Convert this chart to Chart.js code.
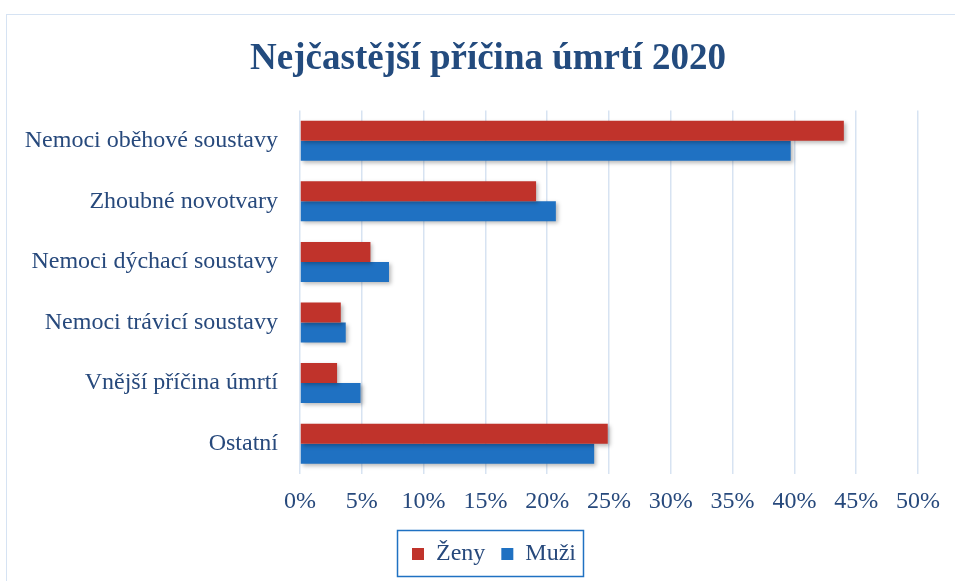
<!DOCTYPE html>
<html>
<head>
<meta charset="utf-8">
<script src="https://cdn.jsdelivr.net/npm/chart.js@4"></script>
<style>
  html, body { margin: 0; padding: 0; background: #fff; overflow: hidden; }
  #frame { position: absolute; left: 6px; top: 14px; width: 980px; height: 600px; border: 1px solid #d6e3f3; box-sizing: border-box; }
  #wrap { position: absolute; left: 0; top: 0; width: 955px; height: 581px; }
</style>
</head>
<body>
<div id="frame"></div>
<div id="wrap"><canvas id="chart"></canvas></div>
<script>
// data
const categories = [
    'Nemoci oběhové soustavy',
    'Zhoubné novotvary',
    'Nemoci dýchací soustavy',
    'Nemoci trávicí soustavy',
    'Vnější příčina úmrtí',
    'Ostatní'
];
const zeny = [44.0, 19.1, 5.7, 3.3, 3.0, 24.9];
const muzi = [39.7, 20.7, 7.2, 3.7, 4.9, 23.8];
const seriesNames = ['Ženy', 'Muži'];
const seriesColors = ['#c0332b', '#1f71c2'];
const textColor = '#27497c';

// stín pod sloupci
const barShadow = {
    id: 'barShadow',
    beforeDatasetsDraw(chart) {
        const ctx = chart.ctx;
        ctx.save();
        ctx.shadowColor = 'rgba(0,0,0,0.28)';
        ctx.shadowBlur = 4;
        ctx.shadowOffsetX = 2;
        ctx.shadowOffsetY = 2;
    },
    afterDatasetsDraw(chart) {
        chart.ctx.restore();
    }
};

// posun nadpisu a legendy doprava (střed nad celou plochou grafu)
const shiftBlocks = {
    id: 'shiftBlocks',
    afterLayout(chart) {
        chart.titleBlock.left += 29;
        chart.titleBlock.right += 29;
        chart.legend.left += 35;
        chart.legend.right += 35;
    }
};

// rámeček kolem legendy
const legendFrame = {
    id: 'legendFrame',
    afterDraw(chart) {
        const boxes = chart.legend.legendHitBoxes;
        if (!boxes || !boxes.length) return;
        const first = boxes[0];
        const last = boxes[boxes.length - 1];
        const ctx = chart.ctx;
        ctx.save();
        ctx.strokeStyle = '#1f71c2';
        ctx.lineWidth = 1.5;
        ctx.strokeRect(first.left - 14.5, first.top - 11.5, last.left + last.width - first.left + 22, first.height + 22);
        ctx.restore();
    }
};

const ctx = document.getElementById('chart').getContext('2d');
const chart = new Chart(ctx, {
    type: 'bar',
    data: {
        labels: categories,
        datasets: [
            { label: seriesNames[0], data: zeny, backgroundColor: seriesColors[0] },
            { label: seriesNames[1], data: muzi, backgroundColor: seriesColors[1] }
        ]
    },
    options: {
        indexAxis: 'y',
        responsive: true,
        maintainAspectRatio: false,
        animation: false,
        datasets: {
            bar: { barPercentage: 1, categoryPercentage: 0.66 }
        },
        layout: { padding: { left: 0, right: 37, top: 0, bottom: 5 } },
        scales: {
            x: {
                min: 0,
                max: 50,
                border: { display: false },
                grid: { color: '#d7e3f2', lineWidth: 1.5, drawTicks: false },
                afterFit(scale) { scale.height = 52; },
                ticks: {
                    stepSize: 5,
                    padding: 13,
                    color: textColor,
                    font: { family: 'Liberation Serif', size: 24 },
                    callback: v => v + '%'
                }
            },
            y: {
                border: { display: false },
                grid: { display: false, drawTicks: false },
                afterFit(scale) { scale.width = 300; },
                ticks: {
                    padding: 22,
                    color: textColor,
                    font: { family: 'Liberation Serif', size: 24 }
                }
            }
        },
        plugins: {
            title: {
                display: true,
                text: 'Nejčastější příčina úmrtí 2020',
                color: '#234b7e',
                font: { family: 'Liberation Serif', size: 37, weight: 'bold' },
                padding: { top: 37, bottom: 29 }
            },
            legend: {
                position: 'bottom',
                labels: {
                    color: textColor,
                    font: { family: 'Liberation Serif', size: 24 },
                    boxWidth: 12,
                    boxHeight: 12,
                    padding: 16
                }
            },
            tooltip: { enabled: false }
        }
    },
    plugins: [barShadow, shiftBlocks, legendFrame]
});
</script>
</body>
</html>
